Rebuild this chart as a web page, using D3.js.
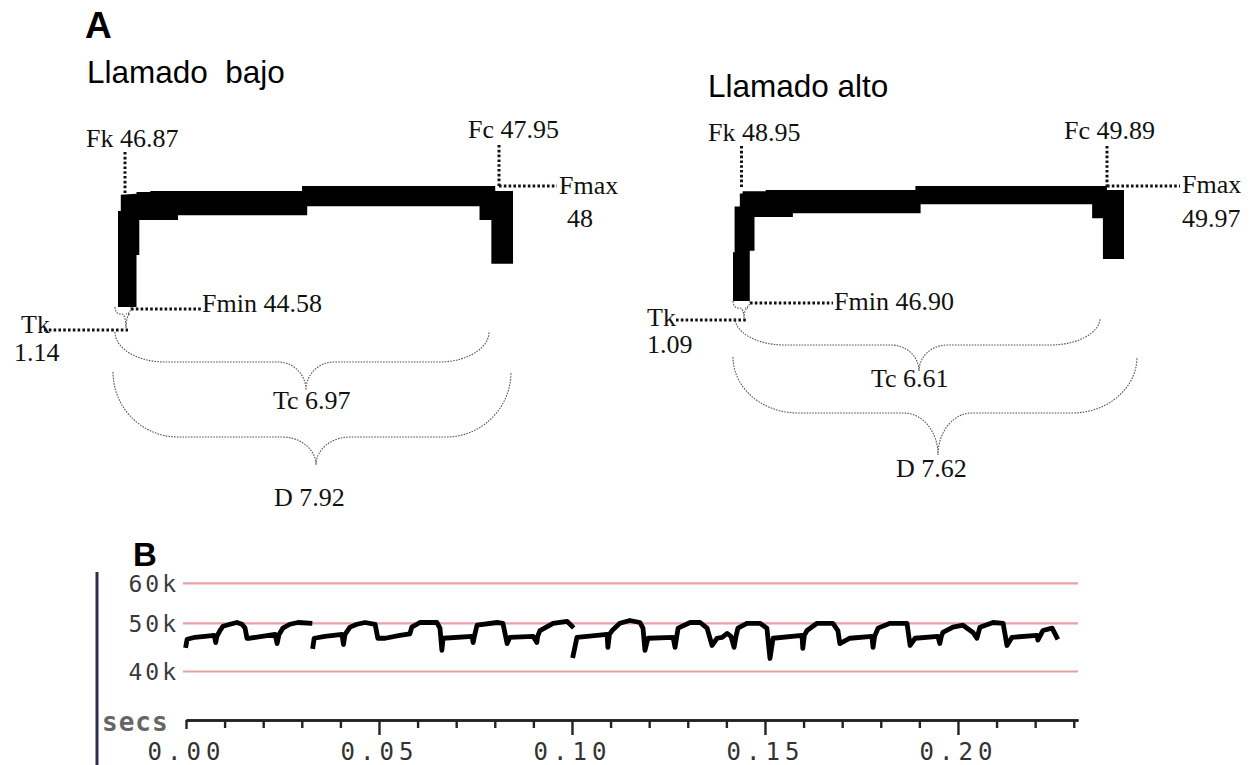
<!DOCTYPE html>
<html><head><meta charset="utf-8">
<script src="https://cdn.jsdelivr.net/npm/d3@7"></script>
<style>
html,body{margin:0;padding:0;background:#fff;}
svg{display:block;}
text{white-space:pre;}
</style></head>
<body>
<svg id="c" width="1255" height="765"></svg>
<script>
// ---------------- DATA ----------------
// Panel A: call outlines (time ms, frequency kHz)
const callBajo = [[0,44.58],[0,47.29],[0.056,47.29],[0.056,47.75],[0.371,47.78],[0.371,47.83],[0.648,47.83],[0.648,47.86],[3.69,47.86],[3.69,48.0],[7.564,48.0],[7.564,47.86],[7.92,47.86],[7.92,45.8],[7.486,45.8],[7.486,47.04],[7.249,47.04],[7.249,47.43],[3.794,47.43],[3.794,47.17],[1.203,47.17],[1.203,47.04],[0.427,47.04],[0.427,46.05],[0.371,46.05],[0.371,44.58]];
const callAlto = [[0,46.90],[0,48.20],[0.031,48.20],[0.031,49.42],[0.133,49.42],[0.133,49.77],[0.187,49.77],[0.187,49.83],[0.637,49.83],[0.637,49.86],[3.555,49.86],[3.555,49.97],[7.287,49.97],[7.287,49.86],[7.62,49.86],[7.62,48.02],[7.209,48.02],[7.209,49.11],[6.999,49.11],[6.999,49.48],[3.656,49.48],[3.656,49.24],[1.167,49.24],[1.167,49.14],[0.419,49.14],[0.419,48.24],[0.327,48.24],[0.327,46.90]];
const titlesA = ["Llamado  bajo", "Llamado alto"];
const statsBajo = {Fk:"46.87", Fc:"47.95", Fmax:"48", Fmin:"44.58", Tk:"1.14", Tc:"6.97", D:"7.92"};
const statsAlto = {Fk:"48.95", Fc:"49.89", Fmax:"49.97", Fmin:"46.90", Tk:"1.09", Tc:"6.61", D:"7.62"};

// Panel B: frequency trace (s, kHz), three continuous segments
const traceSeg1 = [[0.0000,45.4],[0.0003,46.7],[0.0023,47.1],[0.0049,47.3],[0.0073,47.5],[0.0077,46.0],[0.0080,47.3],[0.0088,48.5],[0.0096,49.4],[0.0114,49.8],[0.0132,50.2],[0.0145,49.8],[0.0153,49.0],[0.0158,46.9],[0.0166,46.9],[0.0197,47.3],[0.0231,47.7],[0.0236,45.8],[0.0241,47.7],[0.0251,49.0],[0.0269,49.8],[0.0290,50.2],[0.0321,50.0]];
const traceSeg2 = [[0.0329,45.2],[0.0332,46.9],[0.0360,47.3],[0.0404,47.7],[0.0408,45.6],[0.0412,47.7],[0.0425,49.2],[0.0443,49.8],[0.0464,50.2],[0.0490,49.8],[0.0497,46.9],[0.0516,46.9],[0.0554,47.5],[0.0580,47.8],[0.0585,49.2],[0.0606,50.2],[0.0650,50.2],[0.0658,49.0],[0.0663,44.4],[0.0666,46.9],[0.0741,47.3],[0.0744,46.0],[0.0747,47.3],[0.0754,49.6],[0.0806,50.2],[0.0821,50.0],[0.0832,45.8],[0.0839,47.1],[0.0899,47.3],[0.0909,46.0],[0.0911,47.3],[0.0917,48.5],[0.0951,50.0],[0.0987,50.5],[0.1000,49.4]];
const traceSeg3 = [[0.1003,43.3],[0.1013,47.1],[0.1091,47.7],[0.1093,45.0],[0.1097,47.7],[0.1104,48.5],[0.1124,50.0],[0.1150,50.7],[0.1176,50.2],[0.1184,49.0],[0.1189,44.4],[0.1197,46.9],[0.1262,47.1],[0.1267,45.0],[0.1271,47.1],[0.1275,49.0],[0.1306,50.2],[0.1332,50.2],[0.1350,49.0],[0.1363,45.4],[0.1376,46.9],[0.1389,47.1],[0.1402,47.9],[0.1412,47.3],[0.1420,45.0],[0.1425,47.3],[0.1430,49.0],[0.1453,50.0],[0.1487,50.0],[0.1505,49.0],[0.1513,42.7],[0.1521,46.9],[0.1596,47.5],[0.1598,44.8],[0.1602,47.5],[0.1609,48.5],[0.1635,50.0],[0.1676,50.0],[0.1689,48.5],[0.1694,45.8],[0.1720,46.9],[0.1777,47.3],[0.1780,45.0],[0.1784,47.3],[0.1793,49.0],[0.1824,50.0],[0.1868,50.0],[0.1876,45.4],[0.1889,46.9],[0.1948,47.3],[0.1953,45.8],[0.1957,47.3],[0.1961,48.1],[0.1987,49.2],[0.2013,49.6],[0.2039,48.1],[0.2049,46.9],[0.2057,49.2],[0.2091,50.2],[0.2117,50.0],[0.2127,45.4],[0.2140,47.1],[0.2205,47.5],[0.2207,46.5],[0.2220,48.5],[0.2244,49.0],[0.2256,47.1]];
const gridB = [60, 50, 40];
const gridLabelsB = ["60k", "50k", "40k"];
const majorTicksB = [0, 0.05, 0.10, 0.15, 0.20];
const majorLabelsB = ["0.00", "0.05", "0.10", "0.15", "0.20"];
const minorTicksB = [0.01,0.02,0.03,0.04,0.06,0.07,0.08,0.09,0.11,0.12,0.13,0.14,0.16,0.17,0.18,0.19,0.21,0.22,0.23];

// ---------------- DRAW ----------------
const svg = d3.select("#c");
const serif = "'Liberation Serif','Times New Roman',serif";
const sans = "'Liberation Sans',Arial,sans-serif";
const mono = "'DejaVu Sans Mono',monospace";

svg.append("text").attr("x",85).attr("y",38).attr("font-family",sans).attr("font-weight","bold").attr("font-size",37).text("A");
svg.append("text").attr("x",133).attr("y",566).attr("font-family",sans).attr("font-weight","bold").attr("font-size",33).text("B");

function brace(g, x1, x2, xp, yT, yM, yB, r, r2) {
  const k = 0.552;
  const p = d3.path();
  p.moveTo(x1, yT);
  p.bezierCurveTo(x1, yT + k*(yM-yT), x1 + r*(1-k), yM, x1 + r, yM);
  p.lineTo(xp - r2, yM);
  p.bezierCurveTo(xp - r2 + k*r2, yM, xp, yB - k*(yB-yM), xp, yB);
  p.bezierCurveTo(xp, yB - k*(yB-yM), xp + r2 - k*r2, yM, xp + r2, yM);
  p.lineTo(x2 - r, yM);
  p.bezierCurveTo(x2 - r*(1-k), yM, x2, yT + k*(yM-yT), x2, yT);
  g.append("path").attr("d", p.toString()).attr("fill","none")
    .attr("stroke","#555").attr("stroke-width",1.1).attr("stroke-dasharray","1.6,1.2");
}
function dotted(g, x1, y1, x2, y2) {
  g.append("line").attr("x1",x1).attr("y1",y1).attr("x2",x2).attr("y2",y2)
    .attr("stroke","#111").attr("stroke-width",3).attr("stroke-dasharray","2.6,2.2");
}
function label(g, x, y, t) {
  g.append("text").attr("x",x).attr("y",y).attr("font-family",serif).attr("font-size",26).attr("fill","#111").text(t);
}

function drawCall(cfg) {
  const g = svg.append("g");
  const x = d3.scaleLinear().domain([0, cfg.dur]).range(cfg.xr);
  const y = d3.scaleLinear().domain([cfg.fmin, cfg.fmax]).range(cfg.yr);
  g.append("text").attr("x",cfg.title[0]).attr("y",cfg.title[1]).attr("font-family",sans).attr("font-size",31.5).attr("fill","#000").text(cfg.titleText);
  const line = d3.line().x(d=>x(d[0])).y(d=>y(d[1])).curve(d3.curveLinearClosed);
  g.append("path").attr("d", line(cfg.data)).attr("fill","#000").attr("stroke","none");
  const s = cfg.stats, L = cfg.lay;
  label(g, L.fk[0], L.fk[1], "Fk " + s.Fk);
  dotted(g, L.fkLine[0], L.fkLine[1], L.fkLine[0], L.fkLine[2]);
  label(g, L.fc[0], L.fc[1], "Fc " + s.Fc);
  dotted(g, L.fcLine[0], L.fcLine[1], L.fcLine[0], y(cfg.fmax));
  dotted(g, L.fcLine[0], y(cfg.fmax), L.fmaxLineEnd, y(cfg.fmax));
  label(g, L.fmax[0], L.fmax[1], "Fmax");
  label(g, L.fmaxV[0], L.fmaxV[1], s.Fmax);
  dotted(g, L.fminLine[0], y(cfg.fmin)+2, L.fminLine[1], y(cfg.fmin)+2);
  label(g, L.fmin[0], L.fmin[1], "Fmin " + s.Fmin);
  label(g, L.tk[0], L.tk[1], "Tk");
  dotted(g, L.tkLine[0], L.tkLine[2], L.tkLine[1], L.tkLine[2]);
  label(g, L.tkV[0], L.tkV[1], s.Tk);
  const b0 = L.mini; brace(g, b0[0], b0[1], b0[2], b0[3], b0[4], b0[5], 5, 4);
  const b1 = L.tcBrace; brace(g, b1[0], b1[1], b1[2], b1[3], b1[4], b1[5], 50, 28);
  label(g, L.tc[0], L.tc[1], "Tc " + s.Tc);
  const b2 = L.dBrace; brace(g, b2[0], b2[1], b2[2], b2[3], b2[4], b2[5], 65, 34);
  label(g, L.d[0], L.d[1], "D " + s.D);
}

drawCall({
  data: callBajo, stats: statsBajo, titleText: titlesA[0], title:[87,83],
  dur: 7.92, xr:[118,513], fmin:44.58, fmax:48.0, yr:[307,186],
  lay: { fk:[86,147], fkLine:[125,152,193], fc:[468,138], fcLine:[499,145],
    fmaxLineEnd:557, fmax:[559,194], fmaxV:[567,227],
    fminLine:[131,201], fmin:[202,312], tk:[21,333], tkLine:[44,128,330], tkV:[14,361],
    mini:[115,131,126,307,314,328], tcBrace:[115,489,306,332,362,390], tc:[273,409],
    dBrace:[113,511,316,372,437,465], d:[274,506] }
});
drawCall({
  data: callAlto, stats: statsAlto, titleText: titlesA[1], title:[708,97],
  dur: 7.62, xr:[733,1124], fmin:46.90, fmax:49.97, yr:[301,186],
  lay: { fk:[708,141], fkLine:[741.5,146,188], fc:[1064,139], fcLine:[1107,146],
    fmaxLineEnd:1180, fmax:[1182,193], fmaxV:[1182,227],
    fminLine:[750,833], fmin:[834,310], tk:[647,326], tkLine:[676,748,320], tkV:[647,353],
    mini:[733,750,744,301,308,318], tcBrace:[735,1100,919,318,345,371], tc:[871,387],
    dBrace:[733,1137,938,357,413,455], d:[896,477] }
});

// ---- Panel B ----
const gB = svg.append("g");
const xB = d3.scaleLinear().domain([0, 0.2311]).range([186, 1078]);
const yB = d3.scaleLinear().domain([40, 50, 60]).range([671.5, 623.3, 583.3]);

gB.append("line").attr("x1",97).attr("x2",97).attr("y1",572).attr("y2",765).attr("stroke","#2d2d55").attr("stroke-width",3);

gB.selectAll("line.grid").data(gridB).join("line").attr("class","grid")
  .attr("x1",183).attr("x2",1078).attr("y1",d=>yB(d)).attr("y2",d=>yB(d))
  .attr("stroke",(d,i)=> i===2 ? "#dca69e" : "#eb9fa8").attr("stroke-width",2.2);
gB.selectAll("text.gl").data(gridB).join("text").attr("class","gl")
  .attr("x",179).attr("y",d=>yB(d)).attr("dy","0.36em").attr("text-anchor","end")
  .attr("font-family",mono).attr("font-size",23).attr("letter-spacing",3).attr("fill","#3a3a3a")
  .text((d,i)=>gridLabelsB[i]);

const lineB = d3.line().x(d=>xB(d[0])).y(d=>yB(d[1]));
[traceSeg1, traceSeg2, traceSeg3].forEach(seg=>{
  gB.append("path").attr("d", lineB(seg)).attr("fill","none").attr("stroke","#000")
    .attr("stroke-width",4.8).attr("stroke-linejoin","round").attr("stroke-linecap","square");
});

// axis
const axY = 720;
const axMinor = d3.axisBottom(xB).tickValues(minorTicksB).tickSize(8).tickSizeOuter(0).tickFormat("");
const gMinor = gB.append("g").attr("transform",`translate(0,${axY})`).call(axMinor);
const majorFmt = d => majorLabelsB[majorTicksB.indexOf(d)];
const axMajor = d3.axisBottom(xB).tickValues(majorTicksB).tickSize(15).tickSizeOuter(0).tickPadding(10).tickFormat(majorFmt);
const gMajor = gB.append("g").attr("transform",`translate(0,${axY})`).call(axMajor);
[gMinor, gMajor].forEach(g=>{
  g.select(".domain").attr("stroke","#222").attr("stroke-width",2.6);
  g.selectAll(".tick line").attr("stroke","#222").attr("stroke-width",2.4);
});
gMajor.selectAll(".tick").filter(d=>d===0).select("line").attr("y2",9);
gMajor.selectAll(".tick text").attr("font-family",mono).attr("font-size",24).attr("letter-spacing",5)
  .attr("fill","#333").attr("y",null).attr("dy",null).attr("transform","translate(0,40)");
gB.append("text").attr("x",102).attr("y",731).attr("font-family",mono).attr("font-size",26)
  .attr("font-weight","bold").attr("letter-spacing",1).attr("fill","#666").text("secs");
</script>
</body></html>
